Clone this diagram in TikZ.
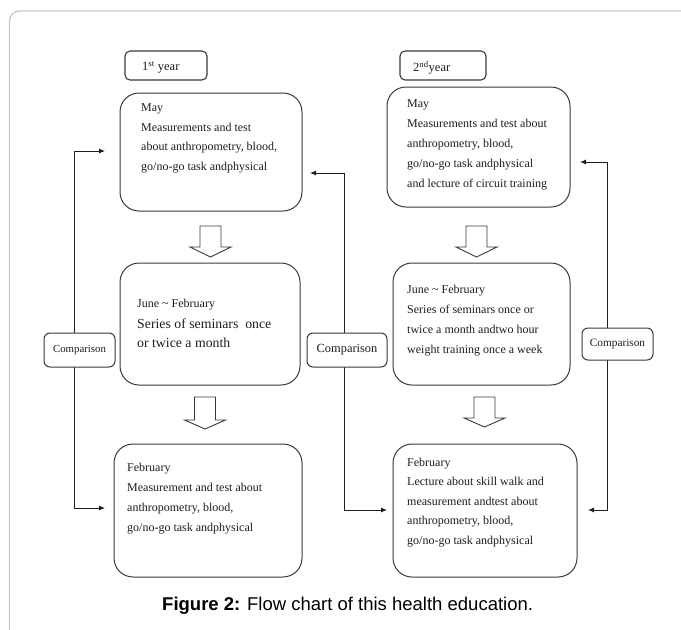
\documentclass[tikz,border=0pt]{standalone}
\usepackage{fontspec}
\setmainfont{Liberation Serif}
\newfontfamily\capfont{Liberation Sans}
\usetikzlibrary{arrows.meta}
\definecolor{framegray}{HTML}{C8C8C8}
\definecolor{boxline}{HTML}{3A3A3A}
\definecolor{ink}{HTML}{1E1E1E}
\newcommand{\hollowarrow}[4]{%
  \draw[blockarrow] ({#1-10.5},#2) -- ({#1+10.5},#2) -- ({#1+10.5},#3) -- ({#1+20.5},#3)
    -- (#1,#4) -- ({#1-20.5},#3) -- ({#1-10.5},#3) -- cycle;}
\begin{document}
\begin{tikzpicture}[x=1pt,y=-1pt,
  bigbox/.style={draw=boxline, line width=1pt, rounded corners=19pt, inner sep=0pt},
  labelbox/.style={draw=boxline, line width=1.1pt, rounded corners=5pt, inner sep=0pt},
  cmpbox/.style={draw=boxline, line width=1pt, rounded corners=6pt, inner sep=0pt, fill=white, text=ink},
  txt/.style={anchor=north west, inner sep=0pt, align=left, text=ink},
  blockarrow/.style={draw=boxline, line width=0.9pt, fill=white, line join=miter},
  conn/.style={draw=ink, line width=0.9pt, -{Latex[length=6pt,width=5pt]}},
  plainline/.style={draw=ink, line width=0.9pt}]
\useasboundingbox (0,0) rectangle (681,630);
\fill[white] (0,0) rectangle (681,630);
% outer frame (only left and top edges visible)
\draw[framegray, line width=1.3pt, rounded corners=10pt] (9.5,650) -- (9.5,11) -- (700,11);

% year labels
\node[labelbox, minimum width=82pt, minimum height=29pt] (y1) at (166,65.5) {};
\node[anchor=west, inner sep=0pt, text=ink, font=\fontsize{12.5}{14}\selectfont] (y1t) at (142,67.5) {1\textsuperscript{st} year};
\node[labelbox, minimum width=86pt, minimum height=29pt] (y2) at (443,65.5) {};
\node[anchor=west, inner sep=0pt, text=ink, font=\fontsize{12.5}{14}\selectfont] (y2t) at (413,67.5) {2\textsuperscript{nd}year};

% main boxes
\node[bigbox, minimum width=182pt, minimum height=118pt] (A) at (211,152) {};
\node[bigbox, minimum width=183pt, minimum height=120pt] (B) at (478.5,147) {};
\node[bigbox, minimum width=180pt, minimum height=122pt] (C) at (210,324) {};
\node[bigbox, minimum width=177pt, minimum height=122pt] (D) at (481.5,324) {};
\node[bigbox, minimum width=188pt, minimum height=133pt] (E) at (208,510.5) {};
\node[bigbox, minimum width=184pt, minimum height=133pt] (F) at (485,510.5) {};

% texts
\node[txt, font=\fontsize{12}{19.7}\selectfont] (At) at (141,103.5)
  {May\\Measurements and test\\about anthropometry, blood,\\go/no-go task andphysical};
\node[txt, font=\fontsize{12}{20}\selectfont] (Bt) at (407,99.5)
  {May\\Measurements and test about\\anthropometry, blood,\\go/no-go task andphysical\\and lecture of circuit training};
\node[txt, font=\fontsize{12}{20}\selectfont] (Ct1) at (137,298.5) {June \textasciitilde{} February};
\node[txt, font=\fontsize{13.8}{19.5}\selectfont] (Ct2) at (137,318.5) {Series of seminars\ \ once\\or twice a month};
\node[txt, font=\fontsize{12}{20}\selectfont] (Dt) at (407,284.5)
  {June \textasciitilde{} February\\Series of seminars once or\\twice a month andtwo hour\\weight training once a week};
\node[txt, font=\fontsize{12}{20}\selectfont] (Et) at (127,462.5)
  {February\\Measurement and test about\\anthropometry, blood,\\go/no-go task andphysical};
\node[txt, font=\fontsize{12}{19.5}\selectfont] (Ft) at (407,457.5)
  {February\\Lecture about skill walk and\\measurement andtest about\\anthropometry, blood,\\go/no-go task andphysical};

% hollow block arrows
\hollowarrow{210.5}{226}{247}{257}
\hollowarrow{205}{397}{420}{429}
\hollowarrow{476.5}{226}{247}{257}
\hollowarrow{484.5}{397}{418}{427}

% comparison connector coordinates
\coordinate (LtopTip) at (105,151);
\coordinate (LbotTip) at (105,508);
\coordinate (MtopTip) at (310,173);
\coordinate (MbotTip) at (387,510);
\coordinate (RtopTip) at (580,162);
\coordinate (RbotTip) at (588,510);
\coordinate (Lx) at (74,350);
\coordinate (Mx) at (344.5,350);
\coordinate (Rx) at (607.5,344);

% connector lines (drawn before comparison boxes so boxes sit on top)
\draw[conn] (Lx) |- (LtopTip);
\draw[conn] (Lx) |- (LbotTip);
\draw[conn] (Mx) |- (MtopTip);
\draw[conn] (Mx) |- (MbotTip);
\draw[conn] (Rx) |- (RtopTip);
\draw[conn] (Rx) |- (RbotTip);

% comparison boxes
\node[cmpbox, minimum width=71pt, minimum height=34pt, font=\fontsize{10.8}{12}\selectfont] (cmpL) at (79.5,350) {Comparison};
\node[cmpbox, minimum width=80pt, minimum height=34pt, font=\fontsize{12.4}{14}\selectfont] (cmpM) at (347,350) {Comparison};
\node[cmpbox, minimum width=71pt, minimum height=32pt, font=\fontsize{11.3}{13}\selectfont] (cmpR) at (617.5,344) {Comparison};

% caption
\node[anchor=base west, inner sep=0pt, text=black] (cap) at (162,610)
  {\capfont\fontsize{18.5}{22}\selectfont\textbf{Figure 2:} Flow chart of this health education.};
\end{tikzpicture}
\end{document}
